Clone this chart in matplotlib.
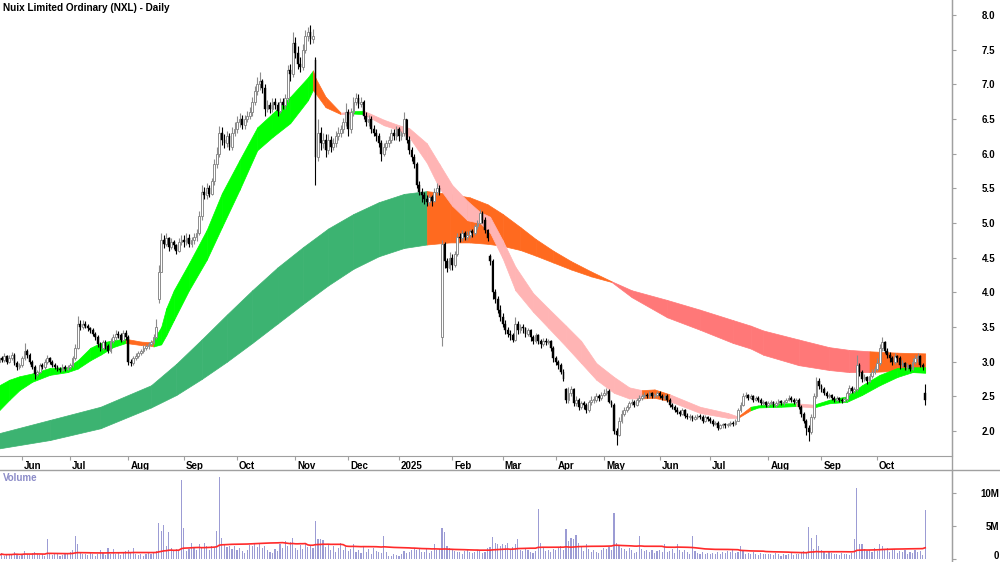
import numpy as np
import pandas as pd
import matplotlib
matplotlib.use('Agg')
import matplotlib.pyplot as plt
from matplotlib.lines import Line2D
from matplotlib.transforms import ScaledTranslation

plt.rcParams['font.family'] = ['Liberation Sans', 'DejaVu Sans']

# trading days (ASX holidays removed)
holidays = ['2024-06-10', '2024-12-25', '2024-12-26', '2025-01-01', '2025-01-27',
            '2025-04-18', '2025-04-21', '2025-04-25', '2025-06-09']
dates = pd.bdate_range('2024-05-21', '2025-10-28')
dates = dates[~dates.isin(pd.to_datetime(holidays))]

# daily closes
close = [
    3.05, 3.02, 3.08, 3.00, 3.06, 3.10, 2.98, 2.92, 2.95,  # May 24
    3.05, 3.15, 3.10, 3.00, 2.92, 2.82, 2.85, 2.95, 2.92, 3.00, 3.05, 3.00, 2.95, 2.92, 2.90, 2.88, 2.93, 2.90, 2.92,  # Jun
    2.95, 3.05, 3.20, 3.55, 3.50, 3.55, 3.52, 3.48, 3.45, 3.40, 3.35, 3.25, 3.20, 3.28, 3.22, 3.15, 3.30, 3.35, 3.40, 3.38, 3.32, 3.42, 3.35,  # Jul
    3.00, 2.98, 3.05, 3.08, 3.12, 3.15, 3.20, 3.22, 3.25, 3.28, 3.35, 3.50, 4.30, 4.75, 4.70, 4.78, 4.65, 4.72, 4.68, 4.60, 4.72, 4.75,  # Aug
    4.72, 4.78, 4.70, 4.75, 4.80, 4.85, 5.10, 5.45, 5.40, 5.50, 5.42, 5.60, 5.85, 6.00, 6.30, 6.20, 6.15, 6.25, 6.10, 6.30, 6.35,  # Sep
    6.45, 6.50, 6.42, 6.50, 6.55, 6.60, 6.75, 6.90, 7.00, 7.05, 6.95, 6.65, 6.70, 6.65, 6.75, 6.70, 6.62, 6.75, 6.70, 6.80, 7.20, 7.15, 7.60,  # Oct
    7.45, 7.30, 7.25, 7.50, 7.70, 7.75, 7.65, 7.70, 5.95, 6.30, 6.15, 6.20, 6.05, 6.20, 6.10, 6.15, 6.25, 6.30, 6.35, 6.45, 6.60,  # Nov
    6.35, 6.60, 6.75, 6.80, 6.72, 6.75, 6.55, 6.45, 6.50, 6.35, 6.30, 6.25, 6.15, 6.00, 6.10, 6.15, 6.20, 6.30, 6.25, 6.35,  # Dec
    6.25, 6.30, 6.50, 6.20, 6.05, 5.95, 5.85, 5.55, 5.45, 5.40, 5.35, 5.30, 5.38, 5.32, 5.45, 5.50, 5.45, 4.70, 4.45, 4.35, 4.50,  # Jan 25
    4.40, 4.55, 4.80, 4.78, 4.85, 4.80, 4.82, 4.88, 4.85, 4.95, 5.00, 5.15, 5.05, 4.90, 4.78, 4.45, 4.00, 3.90, 3.75, 3.65,  # Feb
    3.55, 3.45, 3.40, 3.38, 3.32, 3.55, 3.45, 3.50, 3.48, 3.40, 3.45, 3.35, 3.30, 3.38, 3.30, 3.25, 3.30, 3.28, 3.30, 3.20, 3.05,  # Mar
    3.00, 2.95, 2.85, 2.75, 2.45, 2.55, 2.60, 2.40, 2.45, 2.35, 2.40, 2.38, 2.30, 2.42, 2.45, 2.45, 2.50, 2.48, 2.52,  # Apr
    2.55, 2.58, 2.42, 2.38, 2.00, 1.95, 2.15, 2.25, 2.30, 2.35, 2.40, 2.42, 2.38, 2.45, 2.48, 2.50, 2.52, 2.50, 2.55, 2.50, 2.52, 2.55,  # May
    2.50, 2.48, 2.50, 2.45, 2.38, 2.35, 2.30, 2.28, 2.25, 2.30, 2.22, 2.20, 2.20, 2.18, 2.20, 2.22, 2.20, 2.15, 2.20, 2.18,  # Jun
    2.15, 2.10, 2.12, 2.05, 2.08, 2.10, 2.08, 2.10, 2.12, 2.10, 2.15, 2.30, 2.38, 2.50, 2.52, 2.48, 2.50, 2.45, 2.48, 2.45, 2.40, 2.42, 2.38,  # Jul
    2.40, 2.42, 2.38, 2.40, 2.43, 2.40, 2.42, 2.45, 2.48, 2.45, 2.42, 2.45, 2.35, 2.25, 2.15, 2.05, 1.98, 2.20, 2.50, 2.72, 2.65,  # Aug
    2.60, 2.55, 2.50, 2.52, 2.48, 2.45, 2.47, 2.45, 2.44, 2.46, 2.55, 2.62, 2.58, 2.60, 2.95, 2.85, 2.75, 2.78, 2.72, 2.80, 2.85, 2.90,  # Sep
    2.98, 3.20, 3.28, 3.15, 3.10, 3.05, 3.00, 3.08, 3.05, 2.95, 2.98, 2.92, 2.95, 2.90, 3.00, 3.05, 3.08, 2.95, 2.92, 2.45,  # Oct
]
high = [
    3.10, 3.08, 3.12, 3.10, 3.09, 3.14, 3.12, 3.01, 2.98,
    3.08, 3.27, 3.18, 3.12, 3.03, 2.95, 2.88, 2.98, 2.98, 3.04, 3.09, 3.07, 3.02, 2.98, 2.95, 2.93, 2.96, 2.95, 2.95,
    2.98, 3.08, 3.25, 3.66, 3.60, 3.60, 3.58, 3.55, 3.50, 3.48, 3.43, 3.38, 3.28, 3.32, 3.31, 3.25, 3.34, 3.40, 3.45, 3.44, 3.41, 3.46, 3.45,
    3.38, 3.04, 3.08, 3.12, 3.15, 3.19, 3.24, 3.26, 3.29, 3.32, 3.40, 3.62, 4.40, 4.86, 4.82, 4.85, 4.80, 4.78, 4.75, 4.70, 4.78, 4.82,
    4.82, 4.85, 4.84, 4.80, 4.86, 4.92, 5.18, 5.55, 5.52, 5.58, 5.55, 5.65, 5.92, 6.10, 6.40, 6.38, 6.28, 6.32, 6.30, 6.38, 6.45,
    6.55, 6.58, 6.56, 6.56, 6.62, 6.68, 6.82, 6.98, 7.10, 7.18, 7.08, 7.00, 6.78, 6.74, 6.80, 6.80, 6.74, 6.80, 6.80, 6.86, 7.28, 7.30, 7.75,
    7.68, 7.55, 7.40, 7.58, 7.78, 7.82, 7.85, 7.80, 7.40, 6.50, 6.38, 6.30, 6.28, 6.28, 6.25, 6.22, 6.32, 6.38, 6.42, 6.52, 6.73,
    6.65, 6.66, 6.82, 6.88, 6.86, 6.82, 6.78, 6.60, 6.56, 6.54, 6.42, 6.36, 6.30, 6.20, 6.15, 6.20, 6.25, 6.36, 6.35, 6.40,
    6.38, 6.32, 6.60, 6.50, 6.25, 6.10, 6.00, 5.88, 5.60, 5.50, 5.45, 5.40, 5.42, 5.40, 5.50, 5.58, 5.55, 4.75, 4.72, 4.50, 4.58,
    4.55, 4.60, 4.85, 4.86, 4.90, 4.88, 4.88, 4.92, 4.92, 4.98, 5.05, 5.20, 5.18, 5.08, 4.92, 4.55, 4.48, 4.05, 3.95, 3.82,
    3.70, 3.60, 3.50, 3.45, 3.42, 3.64, 3.58, 3.55, 3.54, 3.50, 3.48, 3.47, 3.38, 3.42, 3.40, 3.33, 3.34, 3.34, 3.33, 3.32, 3.22,
    3.08, 3.03, 2.98, 2.90, 2.62, 2.63, 2.65, 2.62, 2.50, 2.48, 2.44, 2.44, 2.40, 2.45, 2.50, 2.50, 2.55, 2.54, 2.56,
    2.60, 2.62, 2.60, 2.45, 2.40, 2.05, 2.20, 2.30, 2.34, 2.38, 2.44, 2.46, 2.45, 2.48, 2.52, 2.54, 2.56, 2.55, 2.58, 2.57, 2.55, 2.58,
    2.58, 2.54, 2.53, 2.53, 2.48, 2.41, 2.38, 2.34, 2.31, 2.33, 2.32, 2.26, 2.24, 2.23, 2.23, 2.25, 2.25, 2.23, 2.23, 2.22,
    2.20, 2.17, 2.15, 2.14, 2.10, 2.12, 2.12, 2.12, 2.15, 2.14, 2.17, 2.33, 2.42, 2.55, 2.56, 2.54, 2.53, 2.52, 2.51, 2.50, 2.47, 2.45, 2.44,
    2.43, 2.45, 2.44, 2.43, 2.46, 2.45, 2.45, 2.48, 2.52, 2.50, 2.47, 2.48, 2.47, 2.38, 2.28, 2.18, 2.08, 2.25, 2.55, 2.78, 2.76,
    2.68, 2.64, 2.58, 2.55, 2.54, 2.50, 2.50, 2.49, 2.48, 2.49, 2.58, 2.66, 2.65, 2.63, 3.10, 2.98, 2.88, 2.82, 2.80, 2.84, 2.90, 2.94,
    3.06, 3.25, 3.36, 3.30, 3.20, 3.14, 3.08, 3.12, 3.10, 3.08, 3.02, 3.00, 2.98, 2.97, 3.05, 3.10, 3.12, 3.10, 2.98, 2.68,
]
low = [
    2.97, 2.99, 3.00, 2.97, 2.98, 3.03, 2.95, 2.88, 2.89,
    2.93, 3.03, 3.06, 2.97, 2.89, 2.75, 2.79, 2.83, 2.89, 2.90, 2.97, 2.97, 2.92, 2.89, 2.87, 2.85, 2.86, 2.87, 2.88,
    2.89, 2.92, 3.02, 3.18, 3.45, 3.47, 3.48, 3.44, 3.41, 3.37, 3.32, 3.21, 3.16, 3.17, 3.18, 3.12, 3.13, 3.27, 3.31, 3.34, 3.28, 3.30, 3.31,
    2.95, 2.94, 2.95, 3.02, 3.05, 3.09, 3.12, 3.17, 3.19, 3.22, 3.25, 3.33, 3.85, 4.30, 4.64, 4.67, 4.60, 4.62, 4.62, 4.55, 4.58, 4.68,
    4.66, 4.68, 4.65, 4.66, 4.70, 4.74, 4.82, 5.05, 5.35, 5.35, 5.38, 5.40, 5.55, 5.80, 5.95, 6.12, 6.08, 6.10, 6.05, 6.05, 6.25,
    6.30, 6.38, 6.36, 6.36, 6.45, 6.50, 6.55, 6.70, 6.85, 6.92, 6.88, 6.55, 6.60, 6.58, 6.60, 6.64, 6.55, 6.58, 6.64, 6.65, 6.75, 7.05, 7.10,
    7.38, 7.22, 7.18, 7.20, 7.45, 7.62, 7.58, 7.60, 5.55, 5.90, 6.05, 6.08, 5.95, 6.00, 6.02, 6.05, 6.10, 6.20, 6.24, 6.30, 6.40,
    6.25, 6.30, 6.55, 6.70, 6.66, 6.68, 6.50, 6.40, 6.40, 6.30, 6.25, 6.18, 6.10, 5.90, 5.96, 6.05, 6.10, 6.15, 6.20, 6.20,
    6.18, 6.20, 6.25, 6.15, 6.00, 5.90, 5.80, 5.50, 5.40, 5.30, 5.28, 5.25, 5.26, 5.25, 5.30, 5.40, 5.40, 3.22, 4.35, 4.30, 4.32,
    4.32, 4.36, 4.52, 4.72, 4.74, 4.75, 4.76, 4.79, 4.80, 4.82, 4.92, 4.98, 5.00, 4.85, 4.74, 4.40, 3.90, 3.85, 3.70, 3.58,
    3.50, 3.40, 3.35, 3.31, 3.28, 3.30, 3.40, 3.42, 3.42, 3.36, 3.37, 3.30, 3.26, 3.27, 3.25, 3.20, 3.22, 3.24, 3.25, 3.15, 3.00,
    2.95, 2.90, 2.82, 2.72, 2.40, 2.40, 2.50, 2.36, 2.36, 2.30, 2.32, 2.32, 2.26, 2.28, 2.38, 2.40, 2.42, 2.44, 2.45,
    2.50, 2.52, 2.40, 2.34, 1.96, 1.80, 1.93, 2.12, 2.22, 2.27, 2.32, 2.37, 2.35, 2.36, 2.42, 2.45, 2.47, 2.47, 2.48, 2.47, 2.48, 2.49,
    2.47, 2.45, 2.45, 2.42, 2.35, 2.32, 2.27, 2.25, 2.22, 2.23, 2.19, 2.17, 2.16, 2.15, 2.16, 2.18, 2.17, 2.12, 2.13, 2.15,
    2.12, 2.07, 2.08, 2.02, 2.03, 2.05, 2.05, 2.06, 2.07, 2.07, 2.08, 2.14, 2.28, 2.36, 2.47, 2.45, 2.46, 2.42, 2.43, 2.42, 2.37, 2.38, 2.35,
    2.35, 2.37, 2.35, 2.35, 2.37, 2.37, 2.38, 2.40, 2.43, 2.42, 2.39, 2.40, 2.32, 2.20, 2.12, 1.95, 1.85, 1.96, 2.18, 2.48, 2.60,
    2.56, 2.52, 2.47, 2.48, 2.45, 2.42, 2.43, 2.42, 2.41, 2.42, 2.44, 2.52, 2.55, 2.55, 2.58, 2.80, 2.70, 2.72, 2.68, 2.70, 2.77, 2.82,
    2.86, 2.95, 3.15, 3.12, 3.06, 3.00, 2.95, 2.97, 3.00, 2.90, 2.92, 2.88, 2.88, 2.86, 2.88, 2.96, 3.00, 2.92, 2.88, 2.38,
]
# volume, millions of shares
volume = [
    0.6, 0.9, 0.5, 0.7, 0.8, 0.6, 1.0, 0.7, 0.5,
    0.8, 1.2, 0.7, 0.6, 0.9, 1.1, 0.8, 0.6, 0.7, 0.5, 3.0, 0.9, 0.6, 0.7, 0.8, 0.5, 0.6, 0.9, 0.7,
    1.1, 1.3, 3.5, 2.2, 1.0, 0.8, 0.7, 0.6, 0.9, 0.7, 0.5, 0.8, 1.3, 0.9, 0.6, 1.6, 0.8, 1.5, 0.7, 1.0, 0.6, 0.9, 1.2,
    1.4, 0.9, 1.6, 0.7, 0.6, 0.8, 0.5, 0.7, 0.9, 0.8, 1.0, 1.2, 5.5, 4.3, 5.1, 2.0, 4.1, 1.6, 1.2, 1.5, 1.3, 12.0,
    4.7, 1.2, 1.5, 2.5, 1.8, 1.4, 2.2, 1.6, 2.4, 1.9, 1.3, 2.0, 1.7, 4.2, 12.4, 3.2, 2.1, 1.8, 2.0, 1.5, 1.9,
    1.4, 1.6, 1.2, 0.9, 1.3, 2.1, 2.0, 2.2, 1.8, 2.3, 1.6, 2.0, 1.4, 1.1, 0.9, 1.5, 1.2, 2.2, 1.6, 2.8, 1.9, 2.6, 3.2,
    1.7, 1.3, 2.1, 1.5, 2.4, 1.8, 2.0, 1.6, 5.7, 3.1, 3.0, 2.9, 1.8, 2.2, 1.3, 2.0, 1.1, 1.6, 2.4, 1.4, 1.8,
    1.2, 1.5, 2.3, 1.0, 1.3, 0.9, 1.8, 1.1, 1.5, 0.8, 1.6, 1.2, 1.0, 0.9, 3.5, 1.0, 0.5, 0.4, 0.7, 0.6,
    0.5, 0.8, 1.2, 0.9, 1.0, 1.4, 1.6, 1.3, 1.7, 1.1, 1.0, 1.5, 0.9, 1.2, 2.2, 1.3, 1.5, 4.7, 4.1, 2.0, 1.7,
    1.4, 1.2, 1.0, 1.1, 0.8, 1.2, 1.3, 1.0, 0.9, 1.1, 1.4, 1.2, 0.9, 1.0, 1.6, 1.8, 3.3, 2.5, 2.2, 2.0,
    2.3, 2.1, 2.4, 1.5, 1.8, 2.2, 3.0, 1.4, 1.2, 1.5, 1.3, 1.1, 0.9, 1.2, 7.6, 2.4, 1.6, 1.2, 1.4, 1.0, 1.5,
    1.3, 1.6, 1.9, 1.4, 4.5, 2.8, 3.2, 3.0, 3.6, 2.5, 1.8, 1.2, 2.2, 1.5, 1.0, 1.3, 1.1, 0.9, 1.4,
    1.6, 1.5, 1.8, 1.4, 7.0, 2.4, 2.0, 1.7, 1.5, 1.2, 1.6, 1.3, 0.9, 1.1, 3.5, 1.5, 1.2, 1.4, 1.0, 1.3, 0.9, 1.2,
    1.4, 1.1, 2.3, 1.0, 1.2, 1.5, 0.9, 2.2, 1.3, 1.0, 1.4, 1.1, 0.8, 3.5, 1.2, 0.9, 0.8, 1.0, 0.7, 0.9,
    0.8, 0.9, 0.7, 1.0, 0.8, 1.1, 0.9, 1.2, 1.0, 1.3, 0.9, 1.1, 2.0, 1.2, 0.8, 0.9, 0.7, 1.0, 0.8, 0.6, 0.9, 0.7, 0.8,
    0.7, 0.8, 0.6, 0.9, 0.7, 0.5, 0.8, 0.6, 0.7, 0.9, 0.6, 0.8, 0.7, 1.0, 1.2, 0.9, 4.8, 3.2, 1.5, 3.6, 2.0,
    1.3, 1.0, 0.8, 1.1, 0.9, 0.7, 0.8, 0.6, 0.9, 0.7, 0.8, 0.6, 0.9, 3.0, 10.7, 2.3, 2.3, 1.5, 1.2, 1.4, 1.0, 1.6,
    1.2, 2.3, 2.0, 1.4, 1.6, 1.1, 1.3, 1.5, 0.9, 1.2, 1.0, 1.4, 0.8, 1.1, 0.9, 1.3, 1.0, 1.2, 0.6, 7.4,
]
first_open = 3.00
# bars whose open gapped away from the prior close
open_gaps = {'2024-08-19': 3.90, '2024-11-13': 7.35, '2025-01-28': 3.35,
             '2025-02-24': 4.52, '2025-04-07': 2.60, '2025-10-28': 2.55}

# short-term MMA ribbon edges (bar number, upper, lower) and segment colours
short_at = [0, 4, 8, 13, 20, 27, 31, 36, 40, 45, 50, 56, 60, 61, 64, 66, 69, 75, 82, 88,
            95, 102, 108, 115, 122, 124, 125, 129, 135, 139, 144, 152, 158, 162, 169, 174, 179, 185, 190, 194,
            199, 204, 211, 217, 224, 230, 236, 243, 249, 254, 259, 265, 277, 288, 292, 297, 300, 309, 315, 322,
            328, 335, 341, 348, 355, 361, 366]
short_hi = [2.66, 2.74, 2.79, 2.83, 2.91, 2.92, 3.02, 3.20, 3.27, 3.31, 3.33, 3.29, 3.28, 3.32, 3.50, 3.77, 4.03, 4.42, 4.90, 5.43,
            5.91, 6.38, 6.58, 6.82, 7.10, 7.20, 7.09, 6.82, 6.59, 6.61, 6.62, 6.49, 6.41, 6.37, 6.15, 5.85, 5.55, 5.32, 5.16, 5.09,
            4.75, 4.37, 3.99, 3.77, 3.52, 3.30, 2.98, 2.78, 2.63, 2.59, 2.60, 2.53, 2.35, 2.26, 2.21, 2.35, 2.37, 2.40, 2.40, 2.38,
            2.45, 2.50, 2.66, 2.81, 2.91, 2.92, 2.92]
short_lo = [2.30, 2.45, 2.59, 2.71, 2.81, 2.85, 2.90, 3.02, 3.10, 3.21, 3.27, 3.24, 3.23, 3.22, 3.25, 3.38, 3.60, 4.03, 4.47, 4.94,
            5.48, 6.05, 6.24, 6.44, 6.77, 6.92, 6.87, 6.67, 6.57, 6.58, 6.57, 6.41, 6.34, 6.24, 5.87, 5.50, 5.25, 5.04, 5.00, 4.86,
            4.49, 4.03, 3.72, 3.49, 3.22, 2.98, 2.74, 2.55, 2.47, 2.47, 2.48, 2.43, 2.26, 2.19, 2.19, 2.30, 2.34, 2.35, 2.36, 2.34,
            2.40, 2.42, 2.52, 2.66, 2.78, 2.85, 2.84]
short_col = 'GGGGGGGGGG' 'OOO' 'GGGGGGGGGGGG' 'OOO' 'P' 'G' 'PPPPPPPPPPPPPPPPPPP' 'OO' 'PPP' 'O' 'GGG' 'P' 'GGGGGGG'

# long-term MMA ribbon
long_at = [0, 20, 40, 60, 70, 80, 90, 100, 110, 120, 130, 140, 150, 160, 169, 178, 186, 193, 199, 206,
           212, 219, 226, 234, 242, 250, 264, 277, 290, 297, 302, 316, 328, 336, 344, 355, 366]
long_hi = [1.97, 2.16, 2.35, 2.66, 2.97, 3.32, 3.68, 4.03, 4.36, 4.65, 4.92, 5.13, 5.30, 5.42, 5.46, 5.42, 5.37, 5.27, 5.13, 4.94,
           4.77, 4.60, 4.45, 4.30, 4.16, 4.03, 3.89, 3.75, 3.60, 3.52, 3.45, 3.32, 3.21, 3.17, 3.15, 3.13, 3.12]
long_lo = [1.75, 1.87, 2.04, 2.34, 2.52, 2.75, 3.00, 3.27, 3.55, 3.83, 4.10, 4.34, 4.52, 4.64, 4.69, 4.72, 4.72, 4.70, 4.67, 4.61,
           4.53, 4.43, 4.33, 4.23, 4.15, 3.93, 3.64, 3.46, 3.27, 3.19, 3.10, 2.95, 2.88, 2.85, 2.85, 2.87, 2.85]
long_col = 'DDDDDDDDDDDDDD' 'OOOOOOOOOO' 'RRRRRRRRRR' 'OO'

rib_colors = {'G': '#00ff00', 'P': '#ffb4b4', 'O': '#ff6a1f', 'D': '#3cb371', 'R': '#ff7878'}

x = np.arange(len(dates))
c = np.array(close)
o = np.array([first_open] + close[:-1])
for d, v in open_gaps.items():
    o[dates.get_loc(pd.Timestamp(d))] = v
h = np.array(high)
l = np.array(low)
vol = np.array(volume)
vol_avg = pd.Series(vol).rolling(50, min_periods=1).mean()

fig = plt.figure(figsize=(10, 5.62), dpi=100)
ax = fig.add_axes([0, 106 / 562, 0.952, 456 / 562])
axv = fig.add_axes([0, 0, 0.952, 92 / 562])


def draw_ribbon(at, hi, lo, cols, z):
    for k in range(len(at) - 1):
        col = rib_colors[cols[k]]
        ax.fill_between(at[k:k + 2], lo[k:k + 2], hi[k:k + 2], color=col,
                        edgecolor=col, linewidth=0.5, zorder=z)


draw_ribbon(long_at, long_hi, long_lo, long_col, 1)
draw_ribbon(short_at, short_hi, short_lo, short_col, 2)

# candles
up = c >= o
dn = ~up
ax.vlines(x[up], l[up], h[up], color='#8c8c8c', linewidth=0.8, zorder=3)
ax.vlines(x[dn], l[dn], h[dn], color='black', linewidth=0.8, zorder=3)
ax.bar(x[up], np.maximum(c[up] - o[up], 0.01), bottom=o[up], width=0.7,
       color='white', edgecolor='#8c8c8c', linewidth=0.7, zorder=4)
ax.bar(x[dn], o[dn] - c[dn], bottom=c[dn], width=0.7,
       color='black', edgecolor='black', linewidth=0.3, zorder=4)

ax.set_xlim(0.3, 376.6)
ax.set_ylim(1.64, 8.216)
for s in ['top', 'left']:
    ax.spines[s].set_visible(False)
for s in ['right', 'bottom']:
    ax.spines[s].set_color('#a0a0a0')

ax.yaxis.tick_right()
yt = np.arange(2.0, 8.01, 0.5)
ax.set_yticks(yt)
ax.set_yticklabels(['%.1f' % v for v in yt], fontsize=7, fontweight='bold')
ax.tick_params(axis='y', length=3, color='#a0a0a0', pad=28)
for t in ax.get_yticklabels():
    t.set_ha('right')

month_pos = [i for i in range(1, len(dates)) if dates[i].month != dates[i - 1].month]
month_lab = ['2025' if dates[i].month == 1 else dates[i].strftime('%b') for i in month_pos]
ax.set_xticks(month_pos)
ax.set_xticklabels(month_lab, fontsize=7, fontweight='bold')
ax.tick_params(axis='x', length=3, color='#a0a0a0', pad=0.5)
shift = ScaledTranslation(2 / 100, 0, fig.dpi_scale_trans)
for t in ax.get_xticklabels():
    t.set_ha('left')
    t.set_transform(t.get_transform() + shift)

# volume panel
axv.bar(x, vol, width=0.45, color='#9c9cd4', zorder=2)
axv.plot(x, vol_avg, color='#ff2a2a', linewidth=1.2, zorder=3)
axv.set_xlim(0.3, 376.6)
axv.set_ylim(-0.45, 13.48)
axv.set_xticks([])
axv.yaxis.tick_right()
axv.set_yticks([0, 5, 10])
axv.set_yticklabels(['0', '5M', '10M'], fontsize=7, fontweight='bold')
axv.tick_params(axis='y', length=3, color='#a0a0a0', pad=31)
for t in axv.get_yticklabels():
    t.set_ha('right')
lift = ScaledTranslation(0, 4 / 100, fig.dpi_scale_trans)
zero_lab = axv.get_yticklabels()[0]
zero_lab.set_transform(zero_lab.get_transform() + lift)
for s in ['top', 'left', 'bottom']:
    axv.spines[s].set_visible(False)
axv.spines['right'].set_color('#a0a0a0')

fig.add_artist(Line2D([0.952, 0.952], [0, 1], color='#a0a0a0', linewidth=1, transform=fig.transFigure))
fig.add_artist(Line2D([0, 1], [92 / 562, 92 / 562], color='#a0a0a0', linewidth=1, transform=fig.transFigure))

fig.text(3 / 1000, 1 - 8 / 562, 'Nuix Limited Ordinary (NXL) - Daily', fontsize=7.2,
         fontweight='bold', va='center', ha='left')
fig.text(3 / 1000, 1 - 478 / 562, 'Volume', fontsize=7, fontweight='bold',
         color='#8c8cc8', va='center', ha='left')

fig.savefig('out.png', dpi=100)
